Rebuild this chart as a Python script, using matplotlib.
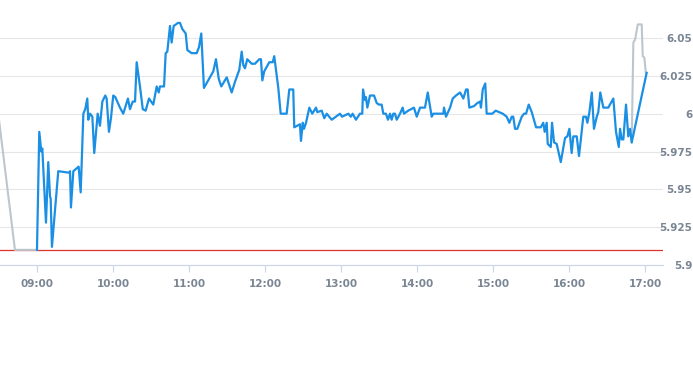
import numpy as np
import matplotlib.pyplot as plt
from matplotlib.ticker import FuncFormatter

# minutes after 09:00 and price
blue_min = [0, 1.8, 3.4, 4.2, 7.1, 8.9, 10.3, 10.8, 11.8, 16.8, 25.3, 26.1, 26.8, 28.7,
            32.9, 34.5, 36.6, 38.1, 39.7, 40.5, 41.8, 43.7, 45.2, 47.9, 49.7, 51.6, 53.9,
            55.0, 56.8, 58.4, 60.2, 61.8, 65.5, 68.1, 71.8, 73.4, 75.6, 77.4, 78.7, 81.3,
            83.5, 85.8, 88.4, 91.8, 94.5, 96.1, 97.1, 100.3, 101.6, 102.9, 105.0, 106.3,
            107.9, 109.7, 111.3, 112.9, 114.7, 117.4, 118.7, 122.1, 126.1, 127.9, 129.7,
            131.8, 139.2, 141.3, 143.5, 145.5, 149.8, 153.7, 156.3, 159.7, 161.6, 162.9,
            164.2, 166.0, 169.5, 172.1, 175.5, 176.8, 177.9, 179.4, 183.4, 186.1, 187.3,
            190.5, 192.4, 197.1, 199.2, 202.3, 203.1, 207.6, 208.4, 209.8, 210.8, 212.4,
            215.0, 217.3, 220.3, 221.3, 224.8, 226.8, 228.7, 232.7, 239.2, 240.8, 245.8,
            247.7, 249.2, 251.8, 255.0, 256.8, 257.4, 258.9, 259.7, 260.8, 262.9, 266.1,
            268.2, 270.0, 272.1, 273.4, 275.5, 277.1, 278.7, 280.0, 281.3, 282.6, 284.0,
            286.6, 288.7, 289.7, 293.1, 297.6, 299.8, 302.4, 306.3, 308.5, 311.6, 312.9,
            320.8, 321.3, 322.9, 326.1, 328.2, 330.8, 334.0, 336.6, 338.7, 340.0, 341.3,
            345.0, 347.6, 349.8, 350.5, 351.9, 353.9, 355.0, 359.5, 362.1, 367.7, 370.8,
            372.9, 374.8, 376.0, 377.4, 379.2, 382.7, 384.5, 386.1, 388.2, 390.6, 394.0,
            397.7, 399.7, 400.8, 402.4, 403.2, 405.6, 406.6, 408.2, 410.3, 413.5, 416.9,
            418.7, 420.3, 422.1, 423.4, 426.1, 427.9, 431.3, 433.4, 434.5, 436.1, 438.0,
            439.7, 441.9, 443.1, 444.7, 447.1, 451.0, 455.0, 457.1, 459.3, 460.3, 461.6,
            462.9, 465.0, 466.8, 468.2, 469.5, 481.3]
blue_px = [5.910, 5.988, 5.975, 5.977, 5.928, 5.968, 5.945, 5.944, 5.912, 5.962, 5.961, 5.962,
           5.938, 5.962, 5.965, 5.948, 6.000, 6.003, 6.010, 5.996, 6.000, 5.998, 5.974, 6.000,
           5.992, 6.008, 6.012, 6.010, 5.988, 5.997, 6.012, 6.011, 6.004, 6.000, 6.010, 6.003,
           6.008, 6.008, 6.034, 6.018, 6.003, 6.002, 6.010, 6.006, 6.018, 6.014, 6.018, 6.018,
           6.040, 6.041, 6.058, 6.047, 6.058, 6.059, 6.060, 6.060, 6.056, 6.053, 6.042, 6.040,
           6.040, 6.044, 6.053, 6.017, 6.028, 6.036, 6.023, 6.018, 6.024, 6.014, 6.021, 6.029,
           6.041, 6.032, 6.030, 6.036, 6.033, 6.033, 6.036, 6.036, 6.022, 6.028, 6.034, 6.034,
           6.038, 6.017, 6.000, 6.000, 6.016, 6.016, 5.991, 5.993, 5.982, 5.994, 5.990, 5.994,
           6.004, 6.000, 6.004, 6.001, 6.002, 5.997, 6.000, 5.996, 6.000, 5.998, 6.000, 5.998,
           6.000, 5.996, 6.000, 6.000, 6.016, 6.009, 6.011, 6.004, 6.012, 6.012, 6.007, 6.006,
           6.006, 6.000, 6.000, 5.996, 6.000, 5.996, 6.000, 6.000, 5.996, 6.000, 6.004, 6.000,
           6.002, 6.004, 5.998, 6.004, 6.004, 6.014, 5.998, 6.000, 6.000, 6.004, 5.998, 6.004,
           6.010, 6.012, 6.014, 6.010, 6.016, 6.016, 6.004, 6.005, 6.007, 6.008, 6.004, 6.016,
           6.020, 6.000, 6.000, 6.002, 6.000, 5.998, 5.994, 5.998, 5.998, 5.990, 5.990, 5.998,
           6.000, 6.000, 6.006, 6.001, 5.991, 5.991, 5.994, 5.988, 5.994, 5.980, 5.978, 5.994,
           5.981, 5.980, 5.968, 5.984, 5.985, 5.990, 5.974, 5.985, 5.985, 5.972, 5.998, 5.998,
           5.994, 6.001, 6.014, 5.990, 5.998, 6.001, 6.014, 6.004, 6.004, 6.010, 5.988, 5.978,
           5.990, 5.983, 5.983, 6.006, 5.985, 5.990, 5.981, 6.027]

# pre-market and after-hours (gray)
pre_min = [-30, -17.4, 0]
pre_px = [5.996, 5.910, 5.910]
post_min = [469.5, 470.8, 472.2, 474.3, 477.4, 478.2, 479.5, 480.6]
post_px = [5.981, 6.047, 6.049, 6.059, 6.059, 6.038, 6.037, 6.027]

prev_close = 5.91
y_ticks = [5.9, 5.925, 5.95, 5.975, 6.0, 6.025, 6.05]
hours = np.arange(0, 481, 60)

fig = plt.figure(figsize=(6.93, 3.65), dpi=100)
ax = fig.add_axes([0, 0.274, 0.9567, 0.684])

ax.plot(pre_min, pre_px, color='#bcc6ce', lw=1.5, zorder=2)
ax.plot(post_min, post_px, color='#bcc6ce', lw=1.5, zorder=2)
ax.plot(blue_min, blue_px, color='#1a8fe3', lw=1.6, zorder=3)
ax.axhline(prev_close, color='#d9352b', lw=0.9, zorder=1)

ax.set_xlim(-29.2, 494.2)
ax.set_ylim(5.9, 6.065)

ax.set_yticks(y_ticks)
ax.yaxis.set_major_formatter(FuncFormatter(lambda v, p: '%g' % round(v, 3)))
ax.yaxis.tick_right()
ax.tick_params(axis='y', length=0, pad=21, labelsize=7.5, labelcolor='#7a8594')
for lbl in ax.get_yticklabels():
    lbl.set_horizontalalignment('right')
ax.grid(axis='y', color='#e6e6e6', lw=0.8)

ax.set_xticks(hours)
ax.xaxis.set_major_formatter(FuncFormatter(lambda v, p: '%02d:00' % (9 + int(v) // 60)))
ax.tick_params(axis='x', length=5, width=0.8, color='#ccd6eb', labelsize=7.5,
               labelcolor='#7a8594', pad=5)
for lbl in ax.get_xticklabels():
    lbl.set_fontweight('bold')
for lbl in ax.get_yticklabels():
    lbl.set_fontweight('bold')

for s in ['top', 'left', 'right']:
    ax.spines[s].set_visible(False)
ax.spines['bottom'].set_color('#ccd6eb')
ax.spines['bottom'].set_linewidth(0.8)

fig.savefig('out.png', dpi=100)
